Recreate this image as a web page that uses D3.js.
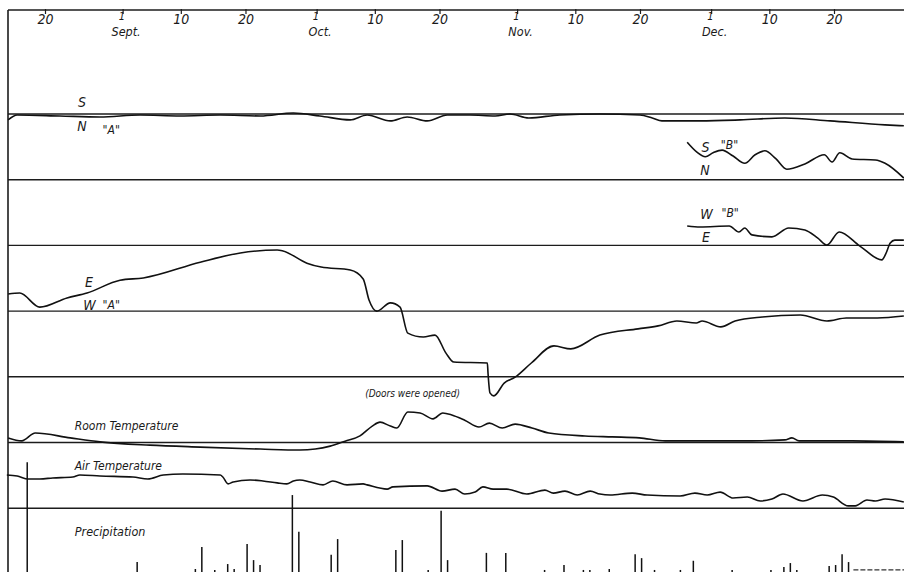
<!DOCTYPE html>
<html>
<head>
<meta charset="utf-8">
<script src="https://cdn.jsdelivr.net/npm/d3@7"></script>
<style>
  body { margin: 0; background: #fff; }
  svg { display: block; }
  .lbl { font-family: "DejaVu Sans Condensed", "DejaVu Sans", sans-serif; font-style: italic; fill: #1a1a1a; }
</style>
</head>
<body>
<svg id="chart" width="904" height="572"></svg>
<script>
const YEAR = 1930;

// days marked along the top edge
const tickDays = [[8,20],[9,1],[9,10],[9,20],[10,1],[10,10],[10,20],[11,1],[11,10],[11,20],[12,1],[12,10],[12,20]];
const monthNames = { 9: 'Sept.', 10: 'Oct.', 11: 'Nov.', 12: 'Dec.' };

// traces: [month, day, deflection]; 10 units = one band
const nsA = [[8,14.3,-0.9],[8,15.7,-0.15],[8,22.3,-0.3],[8,28.5,-0.45],[9,3.7,-0.15],[9,9.9,-0.3],[9,16.1,-0.15],[9,22.3,-0.3],[9,27.4,0.15],[10,1.5,-0.3],[10,6.2,-0.9],[10,8.8,-0.15],[10,12.4,-1.05],[10,15.0,-0.45],[10,18.1,-1.05],[10,21.2,-0.15],[10,24.7,-0.15],[10,28.6,-0.3],[10,30.9,0],[11,2.8,-0.6],[11,7.6,-0.15],[11,13.8,0],[11,20.0,-0.15],[11,21.9,-0.6],[11,23.4,-1.05],[11,29.3,-1.05],[12,5.5,-0.9],[12,12.4,-0.6],[12,19.4,-1.05],[12,27.9,-1.65],[12,30.8,-1.8]];

const nsB = [[11,27.3,5.7],[11,28.8,4.2],[11,30.1,3.5],[12,1.3,4.1],[12,2.7,4.5],[12,4.4,3.6],[12,6.2,2.5],[12,7.8,3.8],[12,9.3,4.4],[12,11.0,3.2],[12,12.7,1.6],[12,15.5,2.4],[12,18.5,3.8],[12,19.7,2.7],[12,20.9,4.1],[12,22.8,3.15],[12,26.4,3.0],[12,27.9,2.5],[12,30.8,0.25]];

const ewB = [[11,27.3,2.95],[11,29.3,2.8],[12,3.8,2.95],[12,5.3,2.05],[12,6.2,2.65],[12,7.3,1.6],[12,10.4,1.3],[12,13.0,2.65],[12,15.5,2.35],[12,17.5,1.1],[12,18.9,0.05],[12,20.8,2.05],[12,24.0,-0.1],[12,27.4,-2.2],[12,28.0,-1.3],[12,28.7,0.35],[12,29.4,0.8],[12,30.8,0.8]];

const ewA = [[8,14.3,2.6],[8,16.1,2.75],[8,19.2,0.6],[8,23.4,2.0],[8,26.5,2.75],[8,31.6,4.7],[9,4.2,5.05],[9,13.0,7.45],[9,19.2,8.85],[9,24.9,9.3],[9,25.8,9.15],[9,29.5,7.3],[10,1.7,6.7],[10,6.2,6.25],[10,8.2,4.9],[10,9.1,1.7],[10,10.3,0],[10,12.4,1.25],[10,13.9,0.6],[10,15.1,-3.35],[10,17.5,-3.95],[10,19.3,-3.65],[10,21.0,-6.4],[10,22.2,-7.75],[10,27.4,-7.9],[10,27.5,-9.4],[10,27.8,-12.45],[10,28.4,-12.9],[10,30.0,-10.95],[10,31.7,-10.05],[11,3.2,-7.9],[11,6.7,-5.3],[11,9.3,-5.75],[11,13.8,-3.65],[11,19.7,-2.7],[11,22.8,-2.25],[11,25.7,-1.5],[11,28.7,-1.8],[11,29.6,-1.5],[12,2.5,-2.4],[12,4.7,-1.5],[12,8.9,-0.9],[12,14.8,-0.6],[12,18.9,-1.5],[12,21.9,-1.05],[12,26.7,-1.05],[12,30.8,-0.75]];

const roomTemp = [[8,14.3,0.7],[8,16.4,0.25],[8,18.5,1.45],[8,23.9,0.7],[8,28.5,0.1],[9,5.2,-0.4],[9,13.0,-0.7],[9,22.3,-1.0],[9,28.4,-1.15],[9,30.8,-1.0],[10,3.1,-0.55],[10,5.4,0.2],[10,7.7,1.0],[10,9.6,2.5],[10,10.8,3.1],[10,12.4,2.5],[10,13.4,2.2],[10,15.1,4.65],[10,17.0,4.5],[10,19.0,3.6],[10,20.5,4.5],[10,21.9,4.2],[10,23.9,3.4],[10,26.1,2.35],[10,27.7,2.95],[10,29.7,2.2],[10,31.7,2.8],[11,3.3,2.2],[11,5.9,1.45],[11,11.5,1.0],[11,15.7,0.85],[11,19.9,0.7],[11,23.9,0.25],[12,7.3,0.25],[12,12.4,0.4],[12,13.5,0.7],[12,14.6,0.25],[12,22.8,0.25],[12,30.8,0.1]];

const airTemp = [[8,14.1,5.05],[8,15.7,4.9],[8,17.4,4.45],[8,19.2,4.45],[8,21.2,4.6],[8,24.3,4.75],[8,25.4,5.05],[8,28.5,4.9],[9,2.6,4.75],[9,4.9,4.45],[9,7.3,5.05],[9,10.3,5.2],[9,16.1,5.05],[9,16.5,4.75],[9,17.3,3.7],[9,18.1,4.0],[9,20.7,4.3],[9,22.7,4.15],[9,24.9,3.85],[9,26.4,3.7],[9,27.4,4.15],[9,28.4,4.3],[9,30.0,4.0],[10,2.0,3.55],[10,3.5,4.15],[10,5.7,3.55],[10,8.2,3.7],[10,8.8,3.55],[10,11.9,2.9],[10,12.8,3.25],[10,18.1,3.4],[10,20.4,2.6],[10,22.4,2.9],[10,23.9,2.15],[10,25.5,2.45],[10,26.7,3.25],[10,28.3,2.9],[10,30.4,2.9],[11,2.5,2.15],[11,5.3,2.75],[11,6.6,2.3],[11,8.4,2.6],[11,10.3,2.0],[11,12.3,2.6],[11,13.8,2.15],[11,15.4,2.0],[11,18.8,2.3],[11,21.1,2.0],[11,26.2,1.85],[11,28.5,2.3],[11,30.4,2.0],[12,2.4,2.45],[12,4.4,1.55],[12,6.6,1.7],[12,8.6,1.1],[12,10.4,1.4],[12,12.1,2.15],[12,15.2,1.1],[12,18.2,2.0],[12,19.9,1.7],[12,22.2,0.35],[12,23.3,0.35],[12,25.1,1.25],[12,26.4,1.1],[12,27.9,1.4],[12,30.8,0.95]];

// daily precipitation [month, day, amount]
const precip = [[8,17,17.0],[9,3,1.8],[9,12,0.75],[9,13,4.1],[9,15,0.6],[9,17,1.5],[9,18,0.75],[9,20,4.55],[9,21,2.1],[9,22,1.35],[9,27,12.0],[9,28,6.4],[10,3,2.9],[10,4,5.3],[10,13,3.65],[10,14,5.15],[10,18,0.6],[10,20,9.6],[10,21,2.1],[10,27,3.2],[10,30,3.2],[11,5,0.6],[11,8,1.35],[11,11,0.6],[11,12,0.6],[11,15,0.75],[11,19,3.0],[11,20,2.4],[11,22,0.6],[11,26,0.6],[11,28,2.0],[12,4,0.6],[12,10,0.6],[12,12,1.05],[12,13,1.65],[12,14,0.6],[12,19,1.2],[12,20,1.35],[12,21,3.0],[12,22,1.8]];
const precipRun = [[12,23,0.6],[12,31,0.6]];

// text labels: [text, month, day, row, level, size]
const labels = [
  ['S', 8,25.1, 0, 1.1, 14], ['N', 8,25.0, 0, -2.6, 14], ['"A"', 8,28.9, 0, -3.1, 12],
  ['E', 8,26.2, 3, 3.7, 14], ['W', 8,25.9, 3, 0.2, 14], ['"A"', 8,28.9, 3, 0.25, 12],
  ['S', 11,29.5, 1, 4.2, 14], ['"B"', 12,2.5, 1, 4.6, 12], ['N', 11,29.3, 1, 0.7, 14],
  ['W', 11,29.3, 2, 4.0, 14], ['"B"', 12,2.6, 2, 4.3, 12], ['E', 11,29.6, 2, 0.5, 14],
  ['Room Temperature', 8,24.6, 5, 1.9, 12],
  ['Air Temperature', 8,24.6, 6, 5.8, 12],
  ['Precipitation', 8,24.6, 7, 5.75, 12.5],
  ['(Doors were opened)', 10,8.5, 4, -3.1, 10]
];

const dt = (m, d) => new Date(new Date(YEAR, m - 1, 1).getTime() + (d - 1) * 864e5);

const width = 904, height = 572;
const svg = d3.select('#chart');

const x = d3.scaleTime().domain([dt(8, 20), dt(12, 20)]).range([45, 834]);
const rowY = d3.scaleLinear().domain([0, 7]).range([114, 573.9]);
const band = row => d3.scaleLinear().domain([0, 10]).range([rowY(row), rowY(row - 1)]);

// band lines
svg.append('g').selectAll('line')
  .data(d3.range(0, 8))
  .join('line')
  .attr('x1', 8).attr('x2', width)
  .attr('y1', d => rowY(d)).attr('y2', d => rowY(d))
  .attr('stroke', '#1c1c1c').attr('stroke-width', 1.4);

// frame: top and left
svg.append('line').attr('x1', 8).attr('x2', width).attr('y1', 10).attr('y2', 10)
  .attr('stroke', '#1c1c1c').attr('stroke-width', 1.4);
svg.append('line').attr('x1', 8).attr('x2', 8).attr('y1', 10).attr('y2', height)
  .attr('stroke', '#1c1c1c').attr('stroke-width', 1.6);

// top axis
const axis = d3.axisBottom(x)
  .tickValues(tickDays.map(([m, d]) => dt(m, d)))
  .tickSize(5)
  .tickPadding(0)
  .tickFormat(d => d.getDate());
const gAxis = svg.append('g').attr('transform', 'translate(0,9)').call(axis);
gAxis.select('.domain').remove();
gAxis.selectAll('.tick line').attr('stroke', '#1c1c1c').attr('stroke-width', 1.2);
gAxis.selectAll('.tick text')
  .attr('class', 'lbl')
  .attr('font-size', 14)
  .attr('font-family', null)
  .attr('fill', null);

// first of the month: small "1" on the tick, month name below to the right
const firsts = gAxis.selectAll('.tick').filter(d => d.getDate() === 1);
firsts.select('text')
  .attr('font-size', 11)
  .attr('text-anchor', 'end')
  .attr('x', 2)
  .attr('y', 3);
firsts.append('text')
  .attr('class', 'lbl')
  .attr('x', 3).attr('y', 27)
  .attr('font-size', 12.5)
  .text(d => monthNames[d.getMonth() + 1]);

// traces
function trace(data, row) {
  const y = band(row);
  const line = d3.line()
    .x(d => x(dt(d[0], d[1])))
    .y(d => y(d[2]))
    .curve(d3.curveMonotoneX);
  svg.append('path')
    .datum(data)
    .attr('d', line)
    .attr('fill', 'none')
    .attr('stroke', '#111')
    .attr('stroke-width', 1.6)
    .attr('stroke-linejoin', 'round');
}
trace(nsA, 0);
trace(nsB, 1);
trace(ewB, 2);
trace(ewA, 3);
trace(roomTemp, 5);
trace(airTemp, 6);

// precipitation bars (plotted at mid-morning of each day)
const yP = band(7);
svg.append('g').selectAll('line')
  .data(precip)
  .join('line')
  .attr('x1', d => x(d3.timeHour.offset(dt(d[0], d[1]), 6)))
  .attr('x2', d => x(d3.timeHour.offset(dt(d[0], d[1]), 6)))
  .attr('y1', yP(0)).attr('y2', d => yP(d[2]))
  .attr('stroke', '#111').attr('stroke-width', 1.5);

svg.append('path')
  .datum(precipRun)
  .attr('d', d3.line().x(d => x(dt(d[0], d[1]))).y(d => yP(d[2])))
  .attr('fill', 'none').attr('stroke', '#333').attr('stroke-width', 1.2)
  .attr('stroke-dasharray', '5,2');

// labels
svg.append('g').selectAll('text')
  .data(labels)
  .join('text')
  .attr('class', 'lbl')
  .attr('x', d => x(dt(d[1], d[2])))
  .attr('y', d => band(d[3])(d[4]))
  .attr('font-size', d => d[5])
  .text(d => d[0]);
</script>
</body>
</html>
